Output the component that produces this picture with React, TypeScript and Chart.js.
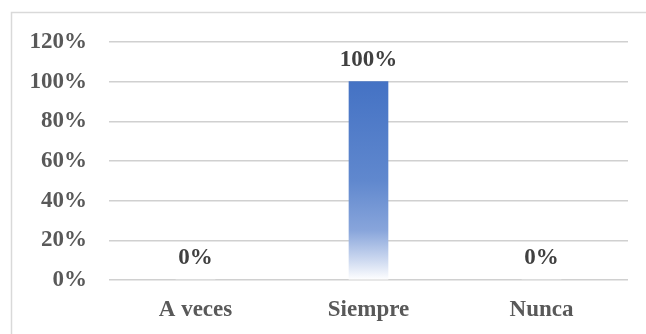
import React, { useEffect, useRef } from "react";
import { Chart, registerables } from "chart.js";

Chart.register(...registerables);

const categories = ["A veces", "Siempre", "Nunca"];
const values = [0, 100, 0];
const yTicks = [0, 20, 40, 60, 80, 100, 120];

const FONT = "'Liberation Serif', 'Times New Roman', serif";

const borderPlugin = {
  id: "outerBorder",
  beforeDraw(chart: any) {
    const ctx = chart.ctx;
    ctx.save();
    ctx.strokeStyle = "#d9d9d9";
    ctx.lineWidth = 1.5;
    ctx.beginPath();
    ctx.moveTo(11.5, 400);
    ctx.lineTo(11.5, 12.5);
    ctx.lineTo(700, 12.5);
    ctx.stroke();
    ctx.restore();
  },
};

const labelPlugin = {
  id: "valueLabels",
  afterDatasetsDraw(chart: any) {
    const ctx = chart.ctx;
    const meta = chart.getDatasetMeta(0);
    const yScale = chart.scales.y;
    ctx.save();
    ctx.font = `bold 23px ${FONT}`;
    ctx.fillStyle = "#404040";
    ctx.textAlign = "center";
    ctx.textBaseline = "middle";
    meta.data.forEach((el: any, i: number) => {
      const v = values[i];
      const y = yScale.getPixelForValue(v) - 22;
      ctx.fillText(`${v}%`, el.x, y);
    });
    ctx.restore();
  },
};

export default function App() {
  const ref = useRef<HTMLCanvasElement>(null);
  useEffect(() => {
    if (!ref.current) return;
    const chart = new Chart(ref.current, {
      type: "bar",
      data: {
        labels: categories,
        datasets: [
          {
            data: values,
            barThickness: 39,
            backgroundColor: (context: any) => {
              const c = context.chart;
              const area = c.chartArea;
              if (!area) return "#4472C4";
              const y = c.scales.y;
              const top = y.getPixelForValue(100);
              const bottom = y.getPixelForValue(0);
              const g = c.ctx.createLinearGradient(0, top, 0, bottom);
              g.addColorStop(0, "rgb(68,114,196)");
              g.addColorStop(0.5, "rgb(96,136,206)");
              g.addColorStop(0.75, "rgb(136,165,219)");
              g.addColorStop(0.9, "rgb(205,217,240)");
              g.addColorStop(1, "rgb(255,255,255)");
              return g;
            },
          },
        ],
      },
      options: {
        animation: false,
        responsive: false,
        maintainAspectRatio: false,
        layout: { padding: { top: 42, right: 18, left: 0, bottom: 0 } },
        plugins: {
          legend: { display: false },
          tooltip: { enabled: false },
        },
        scales: {
          x: {
            grid: { display: false, drawTicks: false },
            border: { display: false },
            ticks: {
              color: "#595959",
              font: { family: FONT, size: 23, weight: "bold" },
              padding: 16,
            },
            afterFit(scale: any) {
              scale.height = 54;
            },
          },
          y: {
            min: 0,
            max: 120,
            afterBuildTicks(scale: any) {
              scale.ticks = yTicks.map((v) => ({ value: v }));
            },
            grid: { color: "#d0d0d0", lineWidth: 1.5, drawTicks: false },
            border: { display: false },
            ticks: {
              color: "#595959",
              font: { family: FONT, size: 23, weight: "bold" },
              padding: 22,
              callback: (v: any) => `${v}%`,
            },
            afterFit(scale: any) {
              scale.width = 109;
            },
          },
        },
      },
      plugins: [borderPlugin, labelPlugin],
    });
    return () => chart.destroy();
  }, []);
  return (
    <div style={{ position: "fixed", left: 0, top: 0, width: 646, height: 334, background: "#fff" }}>
      <canvas ref={ref} width={646} height={334} style={{ width: 646, height: 334 }} />
    </div>
  );
}
